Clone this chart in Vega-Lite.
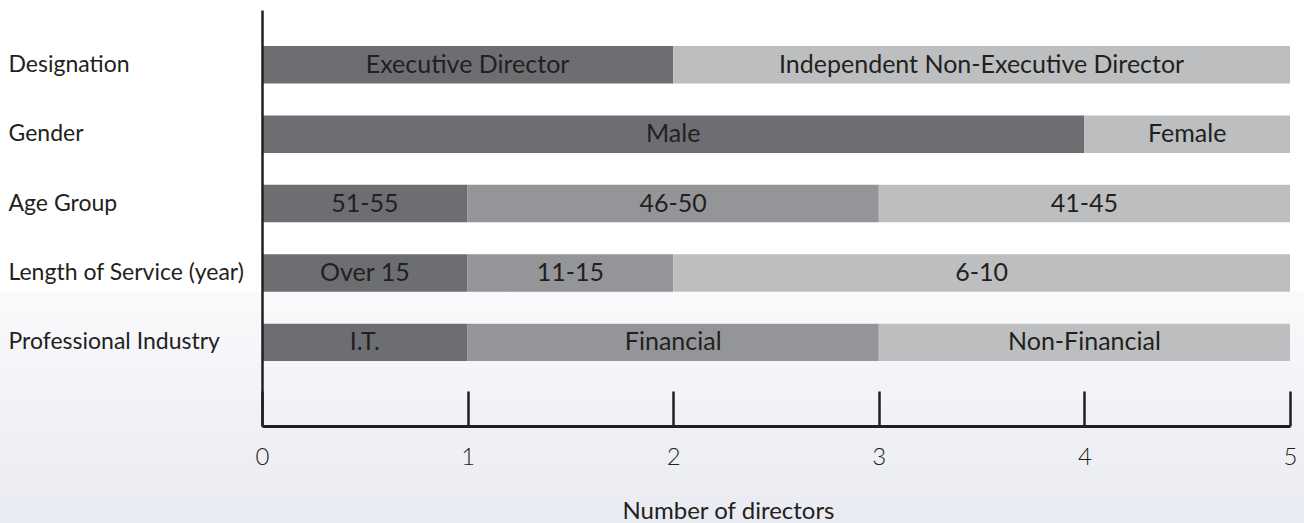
{
  "$schema": "https://vega.github.io/schema/vega-lite/v6.json",
  "width": 1028,
  "height": 416,
  "autosize": "none",
  "padding": {"left": 262, "top": 10, "right": 14, "bottom": 97},
  "background": "#ffffff",
  "config": {"view": {"stroke": null}, "font": "Lato"},
  "resolve": {"scale": {"y": "independent"}},
  "layer": [
    {
      "data": {"values": [{"panel": "lower background"}]},
      "mark": {
        "type": "rect", "clip": false,
        "color": {
          "gradient": "linear", "x1": 0, "y1": 0, "x2": 0, "y2": 1,
          "stops": [{"offset": 0, "color": "#fafafc"}, {"offset": 1, "color": "#e9ebf2"}]
        }
      },
      "encoding": {
        "x": {"datum": -1.2743, "type": "quantitative", "title": "Number of directors", "scale": {"domain": [0, 5], "nice": false, "zero": false}},
        "x2": {"datum": 5.0681},
        "y": {"datum": 0.3221, "type": "quantitative", "scale": {"domain": [0, 1], "nice": false, "zero": false}, "axis": null},
        "y2": {"datum": -0.2332}
      }
    },
    {
      "data": {
        "values": [
          {"dimension": "Designation", "segment": "Executive Director", "directors": 2, "order": 1},
          {"dimension": "Designation", "segment": "Independent Non-Executive Director", "directors": 3, "order": 2},
          {"dimension": "Gender", "segment": "Male", "directors": 4, "order": 1},
          {"dimension": "Gender", "segment": "Female", "directors": 1, "order": 2},
          {"dimension": "Age Group", "segment": "51-55", "directors": 1, "order": 1},
          {"dimension": "Age Group", "segment": "46-50", "directors": 2, "order": 2},
          {"dimension": "Age Group", "segment": "41-45", "directors": 2, "order": 3},
          {"dimension": "Length of Service (year)", "segment": "Over 15", "directors": 1, "order": 1},
          {"dimension": "Length of Service (year)", "segment": "11-15", "directors": 1, "order": 2},
          {"dimension": "Length of Service (year)", "segment": "6-10", "directors": 3, "order": 3},
          {"dimension": "Professional Industry", "segment": "I.T.", "directors": 1, "order": 1},
          {"dimension": "Professional Industry", "segment": "Financial", "directors": 2, "order": 2},
          {"dimension": "Professional Industry", "segment": "Non-Financial", "directors": 2, "order": 3}
        ]
      },
      "transform": [
        {"stack": "directors", "groupby": ["dimension"], "sort": [{"field": "order", "order": "ascending"}], "as": ["start", "end"]},
        {"calculate": "(datum.start + datum.end) / 2", "as": "mid"},
        {"joinaggregate": [{"op": "max", "field": "order", "as": "last"}], "groupby": ["dimension"]},
        {"calculate": "datum.order === 1 ? 'first' : (datum.order === datum.last ? 'last' : 'middle')", "as": "place"}
      ],
      "encoding": {
        "y": {
          "field": "dimension", "type": "nominal", "title": null,
          "sort": ["Designation", "Gender", "Age Group", "Length of Service (year)", "Professional Industry"],
          "scale": {"type": "band", "paddingInner": 0.46, "paddingOuter": 0.727, "align": 0.357},
          "axis": {
            "domain": true, "domainColor": "#231f20", "domainWidth": 2.5,
            "ticks": false, "grid": false,
            "labelAlign": "left", "labelPadding": 254, "labelLimit": 0,
            "labelFont": "Lato", "labelFontSize": 23, "labelColor": "#231f20",
            "labelBaseline": "middle", "zindex": 2
          }
        }
      },
      "layer": [
        {
          "mark": {"type": "bar"},
          "encoding": {
            "x": {
              "field": "start", "type": "quantitative", "title": "Number of directors",
              "scale": {"domain": [0, 5], "nice": false, "zero": false},
              "axis": {
                "values": [0, 1, 2, 3, 4, 5], "format": "d",
                "domain": true, "domainColor": "#231f20", "domainWidth": 3,
                "ticks": true, "tickColor": "#231f20", "tickWidth": 2.5, "tickSize": -35,
                "grid": false, "labelFlush": false,
                "labelFont": "Lato", "labelFontSize": 24, "labelFontWeight": 300, "labelColor": "#231f20",
                "labelBaseline": "alphabetic", "labelPadding": 73.5,
                "titleFont": "Lato", "titleFontSize": 24, "titleFontWeight": "normal", "titleColor": "#231f20",
                "titleX": 466, "titleY": 92, "titleBaseline": "alphabetic", "titleAlign": "center",
                "zindex": 2
              }
            },
            "x2": {"field": "end"},
            "color": {"field": "place", "type": "nominal", "legend": null, "scale": {"domain": ["first", "middle", "last"], "range": ["#6d6e71", "#939598", "#bcbec0"]}}
          }
        },
        {
          "mark": {"type": "text", "font": "Lato", "fontSize": 25, "color": "#231f20", "align": "center", "baseline": "middle"},
          "encoding": {
            "x": {"field": "mid", "type": "quantitative"},
            "text": {"field": "segment", "type": "nominal"}
          }
        }
      ]
    }
  ]
}
